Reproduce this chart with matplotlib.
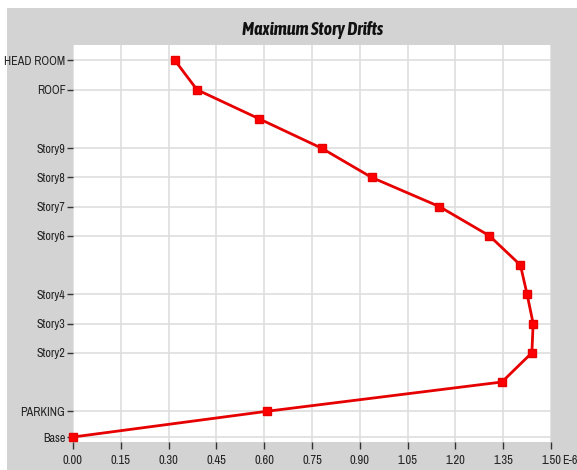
import matplotlib.pyplot as plt
from matplotlib.patches import Rectangle
from matplotlib import font_manager

# story levels (elevation, m) and maximum drift at each level
levels = ["Base", "PARKING", "Story1", "Story2", "Story3", "Story4", "Story5",
          "Story6", "Story7", "Story8", "Story9", "Story10", "ROOF", "HEAD ROOM"]
elevations = [0.0, 3.0, 6.4, 9.8, 13.2, 16.6, 20.0, 23.4, 26.8, 30.2, 33.6, 37.0, 40.4, 43.8]
drifts = [0.0, 0.610, 1.346, 1.440, 1.444, 1.425, 1.404, 1.307, 1.150, 0.937, 0.780, 0.585, 0.389, 0.320]

# only these levels get a label / grid line
labelled = ["Base", "PARKING", "Story2", "Story3", "Story4", "Story6",
            "Story7", "Story8", "Story9", "ROOF", "HEAD ROOM"]
x_ticks = [0.00, 0.15, 0.30, 0.45, 0.60, 0.75, 0.90, 1.05, 1.20, 1.35, 1.50]

# look for a narrow sans face, otherwise fall back to condensed DejaVu
fonts = font_manager.fontManager.ttflist
narrow = sorted({f.name for f in fonts if "Narrow" in f.name or "Condensed" in f.name})
cond_dejavu = any(f.name == "DejaVu Sans" and f.stretch == "condensed" for f in fonts)
if narrow:
    fam, stretch = narrow[0], "normal"
elif cond_dejavu:
    fam, stretch = "DejaVu Sans", "condensed"
else:
    fam, stretch = "Liberation Sans", "normal"
plt.rcParams['font.family'] = [fam, 'DejaVu Sans']
plt.rcParams['font.stretch'] = stretch

# title needs a real bold italic face
bold_narrow = [n for n in narrow
               if any(f.name == n and f.style == "italic" and
                      (f.weight == "bold" or (isinstance(f.weight, int) and f.weight >= 700))
                      for f in fonts)]
if bold_narrow:
    title_font = dict(family=bold_narrow[0], fontsize=13)
else:
    title_font = dict(family="Liberation Sans", fontsize=11)

fig = plt.figure(figsize=(5.77, 4.70), dpi=100, facecolor="#d3d3d3")
# thin white margin along the top and left edges
fig.patches.append(Rectangle((0, 1 - 8 / 470), 1, 8 / 470, transform=fig.transFigure,
                             facecolor="white", edgecolor="none", zorder=-5))
fig.patches.append(Rectangle((0, 0), 7 / 577, 1, transform=fig.transFigure,
                             facecolor="white", edgecolor="none", zorder=-5))

ax = fig.add_axes([73 / 577, 1 - 442 / 470, (551 - 73) / 577, (442 - 45) / 470])
ax.set_facecolor("white")

ax.plot(drifts, elevations, color="#e60000", lw=2, marker="s", ms=5.5,
        mec="#e60000", mfc="#ff0000", clip_on=False, zorder=3)

ax.set_xlim(0, 1.5)
ax.set_ylim(-0.58, 45.6)
ax.set_xticks(x_ticks)
ax.set_xticklabels(["%.2f" % v for v in x_ticks])
ytk = [elevations[levels.index(n)] for n in labelled]
ax.set_yticks(ytk)
ax.set_yticklabels(labelled)

ax.grid(True, color="#dedede", lw=1.2)
ax.set_axisbelow(True)
for s in ax.spines.values():
    s.set_visible(False)
ax.tick_params(axis="x", length=5, width=1, color="#333333", pad=4, labelsize=9,
               labelcolor="#222222")
ax.tick_params(axis="y", length=4, width=1, color="#333333", pad=1.5, labelsize=8.7,
               labelcolor="#222222")

# unit suffix after the last x tick label
ax.annotate("E-6", xy=(1, 0), xycoords="axes fraction", xytext=(7.8, -9),
            textcoords="offset points", ha="left", va="top", fontsize=8.7,
            color="#222222")

fig.text(313 / 577, 1 - 30 / 470, "Maximum Story Drifts", ha="center", va="center",
         fontweight="bold", fontstyle="italic", color="#111111", **title_font)

fig.savefig("out.png", dpi=100, facecolor=fig.get_facecolor())
